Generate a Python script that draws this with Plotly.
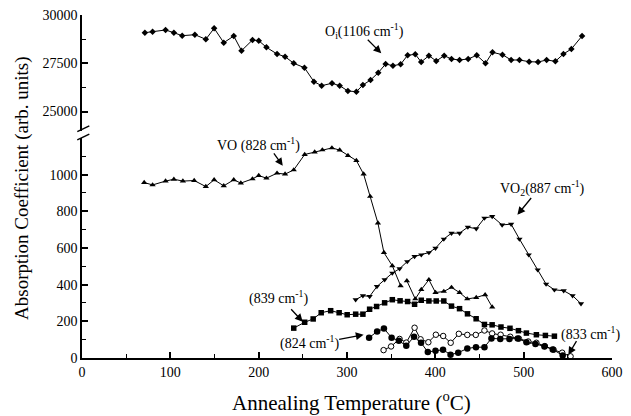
import plotly.graph_objects as go

# ---- data ----
oi_x = [71.2, 79.9, 94.6, 104, 113.4, 127.8, 140.2, 149.6, 160.5, 171.8, 180.6, 193, 200.1, 208.8, 220.8,
        229.9, 239.7, 251.8, 262.6, 271.3, 283, 291.7, 301, 310.6, 318, 326.7, 335.4, 343.7, 352, 360.7,
        368.6, 377.3, 384, 392.7, 401, 410, 418.3, 427.4, 437.2, 446.9, 456.8, 464.7, 476, 485.8, 495.2,
        506.2, 516.3, 526, 535.9, 545, 554, 566.1]
oi_y = [29084, 29136, 29224, 29084, 28929, 28980, 28742, 29312, 28566, 28913, 28152, 28706, 28670, 28328, 27981,
        27842, 27500, 27272, 26548, 26341, 26465, 26341, 26066, 26030, 26377, 26636, 27013, 27464, 27376, 27448,
        27914, 27966, 27567, 27893, 27619, 27893, 27723, 27671, 27723, 27914, 27500, 28069, 27945, 27671, 27671,
        27583, 27567, 27671, 27603, 27981, 28240, 28913]

vo_x = [70.4, 79.9, 94.6, 104, 114.2, 127, 140.2, 149.6, 160.5, 171.8, 179.8, 193, 200.1, 208.8, 220.8,
        229.9, 239.7, 252.1, 263.4, 272.1, 282.9, 291.7, 301.1, 310.6, 318.8, 326.2, 335, 341.8, 351.3, 360.7,
        None, 367.8, 377.3, 384.1, 392.7, 400.2, 409.6, 418.3, 427.4, 436.1, 446.3, 456.4, 464.4]
vo_y = [957, 944, 965, 975, 965, 968, 935, 972, 939, 972, 954, 977, 995, 981, 1008,
        1003, 1026, 1110, 1123, 1135, 1146, 1134, 1104, 1077, 1003, 881, 736, 575, 503, 394,
        None, 421, 322, 373, 427, 357, 363, 385, 357, 322, 330, 345, 278]

vo2_x = [309.8, 318, 325.6, 333.9, 342.6, 351.3, 359.5, 368.2, 376.5, 384.1, 392.7, 400.2, 409.6, 418.3, 427.4,
         436.8, 446.3, 455.6, 464.4, 475.6, 485.8, 495.2, 505.7, 515.9, 525.4, 534.8, 545.3, 555.4, 564.9]
vo2_y = [318, 340, 336, 390, 427, 463, 487, 526, 554, 563, 575, 599, 649, 681, 681,
         714, 705, 763, 772, 726, 730, 649, 563, 481, 403, 372, 367, 340, 296]

s839_x = [239.7, 252.1, 261.7, 270.8, 281.5, 291.1, 300.2, 309.8, 318, 325.6, 333.5, 342.6, 351.3, 360.1, 368.6,
          376.5, 384.1, 392.7, 401, 409.6, 418.3, 427.4, 436.4, 446.2, 455.6, 464.3, 474.3, 484.5, 494.1, 503.1,
          514.4, 524.6, 534.8]
s839_y = [163, 195, 213, 247, 258, 247, 236, 239, 239, 266, 281, 301, 318, 312, 308,
          293, 315, 311, 311, 311, 283, 269, 241, 214, 183, 181, 169, 162, 149, 136,
          127, 123, 119]

s824_x = [325, 334.1, 341.8, 350.5, 358.7, 367.1, 375.9, 383.8, 391.5, 400.2, 408.7, 417.2, 425.9, 436.2, 446,
          455.6, 463.5, 473.5, 483.9, 493.3, 503.1, 513.3, 523.5, 532.9, 544.2]
s824_y = [111, 144, 161, 111, 94, 67, 116, 83, 33, 40, 45, 18, 29, 52, 59,
          59, 107, 104, 104, 106, 86, 77, 63, 47, 14]

s833_x = [341.4, 349.9, 359.5, 367.1, 376.5, 383.3, 392.1, 400.6, 408.9, 417.4, 426.6, 436.2, 445.8, 455.6, 464.3,
          473.9, 484.8, 494.6, 505.2, 514.4, 524, 533.9, 543.6, 553.1]
s833_y = [43, 63, 104, 84, 165, 102, 86, 127, 120, 83, 132, 126, 126, 150, 134,
          127, 116, 106, 90, 83, 65, 45, 29, 9]

x_ticks = [0, 100, 200, 300, 400, 500, 600]
low_ticks = [0, 200, 400, 600, 800, 1000]
low_minor = [100, 300, 500, 700, 900, 1100]
up_ticks = [25000, 27500, 30000]
up_minor = [26250, 28750]

# ---- figure ----
FONT = "Liberation Serif"
LOW_DOM = [0, 0.6414]
UP_DOM = [0.6621, 1]

fig = go.Figure()
line = dict(color="black", width=1)


def add(x, y, symbol, size, yaxis="y", fill="black", lw=0):
    fig.add_trace(go.Scatter(
        x=x, y=y, yaxis=yaxis, mode="lines+markers", line=line,
        marker=dict(symbol=symbol, size=size, color=fill, line=dict(color="black", width=lw)),
        connectgaps=False, showlegend=False, cliponaxis=False))


add(oi_x, oi_y, "diamond", 5, "y2")
add(vo_x, vo_y, "triangle-up", 5.5)
add(vo2_x, vo2_y, "triangle-down", 5.5)
add(s839_x, s839_y, "square", 5.5)
add(s833_x, s833_y, "circle", 5.5, fill="white", lw=1)
add(s824_x, s824_y, "circle", 6.5)


def tick_font():
    return dict(family=FONT, size=14, color="black")


axis_common = dict(showline=True, linecolor="black", linewidth=1.5, ticks="inside", tickcolor="black",
                   tickwidth=1.5, ticklen=6, showgrid=False, zeroline=False, automargin=False,
                   tickformat="d")

fig.update_layout(
    width=631, height=416,
    margin=dict(l=82, r=19, t=15, b=58),
    paper_bgcolor="white", plot_bgcolor="white",
    font=dict(family=FONT, size=14, color="black"),
    showlegend=False,
    xaxis=dict(range=[0, 600], tickvals=x_ticks, anchor="y", tickfont=tick_font(),
               minor=dict(tickvals=[50, 150, 250, 350, 450, 550], ticks="inside", ticklen=4,
                          tickcolor="black", tickwidth=1.2),
               **axis_common),
    yaxis=dict(range=[0, 1200], domain=LOW_DOM, tickvals=low_ticks, anchor="x", tickfont=tick_font(),
               minor=dict(tickvals=low_minor, ticks="inside", ticklen=4, tickcolor="black", tickwidth=1.2),
               **axis_common),
    yaxis2=dict(range=[24000, 30000], domain=UP_DOM, tickvals=up_ticks, anchor="x", tickfont=tick_font(),
                minor=dict(tickvals=up_minor, ticks="inside", ticklen=4, tickcolor="black", tickwidth=1.2),
                **axis_common),
)

tfont = dict(family=FONT, size=14, color="black")
texts = [
    ("O<sub>i</sub>(1106 cm<sup>-1</sup>)", 320, 29172, "y2"),
    ("VO (828 cm<sup>-1</sup>)", 200, 1162, "y"),
    ("VO<sub>2</sub>(887 cm<sup>-1</sup>)", 521, 928, "y"),
    ("(839 cm<sup>-1</sup>)", 222.7, 329, "y"),
    ("(824 cm<sup>-1</sup>)", 257, 83, "y"),
    ("(833 cm<sup>-1</sup>)", 575.5, 132, "y"),
]
for t, x, y, yr in texts:
    fig.add_annotation(text=t, x=x, y=y, xref="x", yref=yr, showarrow=False, font=tfont,
                       xanchor="center", yanchor="middle")

arrows = [
    (338.8, 28018, 321.8, 28794, "y2"),
    (227.3, 1048, 216, 1124, "y"),
    (492.9, 781, 509.9, 881, "y"),
    (249.9, 198, 235.2, 274, "y"),
    (318.8, 127, 289.4, 100, "y"),
    (550.6, 18, 560.8, 100, "y"),
]
for hx, hy, tx, ty, yr in arrows:
    fig.add_annotation(text="", x=hx, y=hy, ax=tx, ay=ty, xref="x", yref=yr, axref="x", ayref=yr,
                       showarrow=True, arrowhead=2, arrowsize=1.2, arrowwidth=1.3, arrowcolor="black")

# axis titles
fig.add_annotation(text="Absorption Coefficient (arb. units)", x=-0.113, y=0.496, xref="paper", yref="paper",
                   xanchor="center", yanchor="middle",
                   textangle=-90, showarrow=False, font=dict(family=FONT, size=19, color="black"))
fig.add_annotation(text="Annealing Temperature (<sup>o</sup>C)", x=0.509, y=-0.128, xref="paper", yref="paper",
                   xanchor="center", yanchor="middle",
                   showarrow=False, font=dict(family=FONT, size=21, color="black"))

# axis break marks
for y0, y1 in [(0.660, 0.6766), (0.6361, 0.6525)]:
    fig.add_shape(type="line", xref="paper", yref="paper", x0=-0.0089, x1=0.0138, y0=y0, y1=y1,
                  line=dict(color="black", width=1.5))

fig.write_html("out.html", post_script="document.body.style.margin='0';",
               config={"displayModeBar": False})
